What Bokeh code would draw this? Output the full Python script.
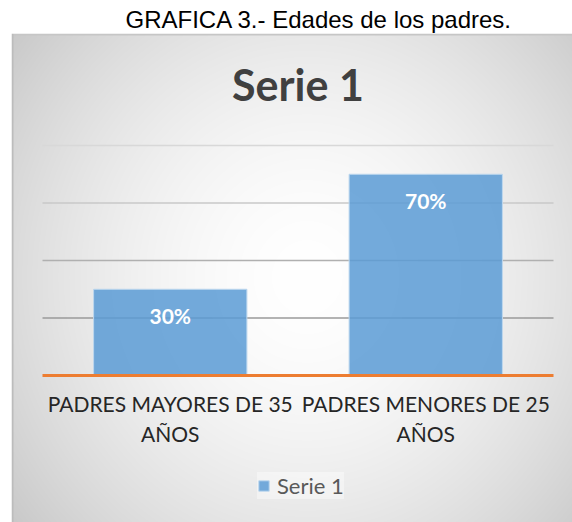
import numpy as np
from bokeh.plotting import figure
from bokeh.models import (Range1d, LinearAxis, FixedTicker, Label, LabelSet,
                          ColumnDataSource, Legend, LegendItem)
from bokeh.core.properties import value
from bokeh.embed import file_html
from bokeh.resources import INLINE

# ---------------- data ----------------
categories = ["PADRES MAYORES DE 35 AÑOS", "PADRES MENORES DE 25 AÑOS"]
category_tick_labels = ["PADRES MAYORES DE 35\nAÑOS", "PADRES MENORES DE 25\nAÑOS"]
series_name = "Serie 1"
values = [30, 70]            # percent
grid_ticks = [20, 40, 60, 80]
chart_title = "GRAFICA 3.- Edades de los padres."

# ---------------- geometry (pixels) ----------------
W, H = 572, 522
BORDER_LEFT = 11
TITLE_H = 33
FW = W - BORDER_LEFT
FH = H - TITLE_H
AREA_LEFT = 31
AREA_W = 511
ZERO_Y = 342
AREA_H = 230

n = len(categories)
px_per_cat = AREA_W / n
x0 = -AREA_LEFT / px_per_cat
x1 = (FW - AREA_LEFT) / px_per_cat
top_val = max(grid_ticks)
px_per_val = AREA_H / top_val
y1 = ZERO_Y / px_per_val
y0 = -(FH - ZERO_Y) / px_per_val


def y_from_frame_px(py):
    return (ZERO_Y - py) / px_per_val


p = figure(width=W, height=H, x_range=Range1d(x0, x1), y_range=Range1d(y0, y1),
           output_backend="svg", toolbar_location=None,
           x_axis_location=None, y_axis_location=None,
           min_border_left=BORDER_LEFT, min_border_right=0,
           min_border_top=TITLE_H, min_border_bottom=0,
           title=chart_title, outline_line_color=None)
p.grid.visible = False
p.title.text_font = "Liberation Sans"
p.title.text_font_size = "24px"
p.title.text_font_style = "normal"
p.title.text_color = "#000000"
p.title.align = "left"
p.title.offset = 114
p.title.standoff = 1

# radial gradient background of the chart box
yy, xx = np.mgrid[0:FH, 0:FW]
u = xx / 557.0
v = yy / 487.0
r = np.sqrt(((u - 0.53) / 0.62) ** 2 + ((v - 0.5) / 0.75) ** 2)
g = 255 - 47 * np.clip(r, 0, 1.15) ** 1.7
g[:, :2] = 188
g[:2, :] = np.minimum(g[:2, :], 198)
rgba = np.zeros((FH, FW, 4), dtype=np.uint8)
gi = np.clip(g, 0, 255).astype(np.uint8)
rgba[..., 0] = gi
rgba[..., 1] = gi
rgba[..., 2] = gi
rgba[..., 3] = 255
img = np.ascontiguousarray(rgba[::-1]).view(np.uint32).reshape(FH, FW)
p.image_rgba(image=[img], x=x0, y=y0, dw=x1 - x0, dh=y1 - y0, level="underlay")

# gridlines across plot area only
grid_colors = ["#9a9a9a", "#b0b0b0", "#c8c8c8", "#d8d8d8"]
p.segment(x0=[0] * len(grid_ticks), x1=[n] * len(grid_ticks),
          y0=grid_ticks, y1=grid_ticks, line_color=grid_colors, line_width=1.5)

xpos = [i + 0.5 for i in range(n)]
src = ColumnDataSource(dict(x=xpos, top=values, label=[f"{v_}%" for v_ in values]))
bars = p.vbar(x="x", top="top", bottom=0, width=0.6, source=src,
              fill_color="#5B9BD5", fill_alpha=0.85,
              line_color="#BDD7EE", line_width=1)

labels = LabelSet(x="x", y="top", text="label", source=src, y_offset=-26,
                  text_align="center", text_baseline="middle",
                  text_color="white", text_font=value("Lato"),
                  text_font_size=value("21px"), text_font_style="bold")
p.add_layout(labels)

xaxis = LinearAxis(fixed_location=0, bounds=(0, n),
                   ticker=FixedTicker(ticks=xpos),
                   major_label_overrides={xpos[i]: category_tick_labels[i] for i in range(n)})
xaxis.axis_line_color = "#ED7D31"
xaxis.axis_line_width = 3
xaxis.major_tick_line_color = None
xaxis.minor_tick_line_color = None
xaxis.major_tick_out = 0
xaxis.major_tick_in = 0
xaxis.major_label_standoff = 15
xaxis.major_label_text_font = "Lato"
xaxis.major_label_text_font_size = "21px"
xaxis.major_label_text_color = "#262626"
p.add_layout(xaxis, "below")

# inner chart title
p.add_layout(Label(x=n / 2, y=y_from_frame_px(84 - TITLE_H), text=series_name,
                   text_align="center", text_baseline="middle",
                   text_font="Lato", text_font_size="43px", text_font_style="bold",
                   text_color="#404040"))

legend = Legend(items=[LegendItem(label=series_name, renderers=[bars])],
                location=(246, 23), orientation="horizontal",
                glyph_width=13, glyph_height=13, label_standoff=7,
                padding=8, margin=0, spacing=0,
                label_text_font="Lato", label_text_font_size="22px",
                label_text_color="#595959",
                background_fill_color="white", background_fill_alpha=0.4,
                border_line_color=None)
p.add_layout(legend, "center")

open("out.html", "w").write(file_html(p, INLINE))
